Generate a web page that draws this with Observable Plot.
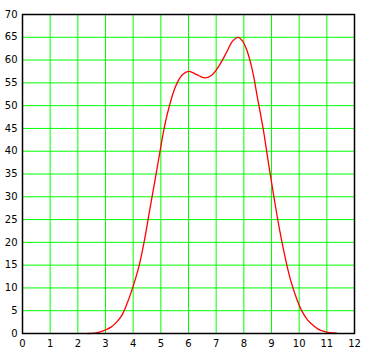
<!DOCTYPE html>
<html>
<head>
<meta charset="utf-8">
<script src="https://cdn.jsdelivr.net/npm/d3@7"></script>
<script src="https://cdn.jsdelivr.net/npm/@observablehq/plot@0.6"></script>
<style>
  html, body { margin: 0; padding: 0; background: #fff; }
</style>
</head>
<body>
<div id="chart"></div>
<script>
const xTicks = [0,1,2,3,4,5,6,7,8,9,10,11,12];
const yTicks = [0,5,10,15,20,25,30,35,40,45,50,55,60,65,70];
const xs = [2.35,2.6,2.8,3.0,3.2,3.4,3.6,3.8,4.0,4.2,4.4,4.6,4.8,5.0,5.1,5.2,5.3,5.4,5.5,5.6,5.7,5.8,6.0,6.2,6.4,6.6,6.8,7.0,7.2,7.4,7.6,7.8,7.95,8.1,8.3,8.5,8.7,8.9,9.1,9.3,9.5,9.7,9.9,10.1,10.3,10.5,10.7,10.9,11.1,11.35];
const ys = [0,0.1,0.35,0.8,1.4,2.5,4.1,6.9,10.4,14.5,20.2,27.2,34.0,41.0,44.4,47.3,49.7,51.9,53.7,55.1,56.2,56.9,57.5,57.1,56.5,56.1,56.5,57.8,59.7,62.0,64.2,65.0,64.2,62.3,58,51.5,44.9,37,29.5,22.5,16.5,11.5,7.8,4.9,3.0,1.8,0.9,0.45,0.2,0.1];
const data = xs.map((x, i) => ({x, y: ys[i]}));

const chart = Plot.plot({
  width: 370,
  height: 356,
  marginLeft: 22,
  marginRight: 16,
  marginTop: 14,
  marginBottom: 23,
  x: {domain: [0, 12]},
  y: {domain: [0, 70]},
  style: {fontFamily: "'DejaVu Sans', sans-serif", fontSize: "10px", background: "#fff", color: "#000"},
  marks: [
    Plot.ruleX(xTicks, {stroke: "#00ff00", strokeWidth: 1}),
    Plot.ruleY(yTicks, {stroke: "#00ff00", strokeWidth: 1}),
    Plot.line(data, {x: "x", y: "y", stroke: "#ff0000", strokeWidth: 1.3, curve: "catmull-rom"}),
    Plot.frame({stroke: "#000", strokeWidth: 1.5}),
    Plot.axisX({ticks: xTicks, tickSize: 0, tickPadding: 6, label: null, fill: "#000"}),
    Plot.axisY({ticks: yTicks, tickSize: 0, tickPadding: 5, label: null, fill: "#000"})
  ]
});
document.getElementById("chart").appendChild(chart);
</script>
</body>
</html>
